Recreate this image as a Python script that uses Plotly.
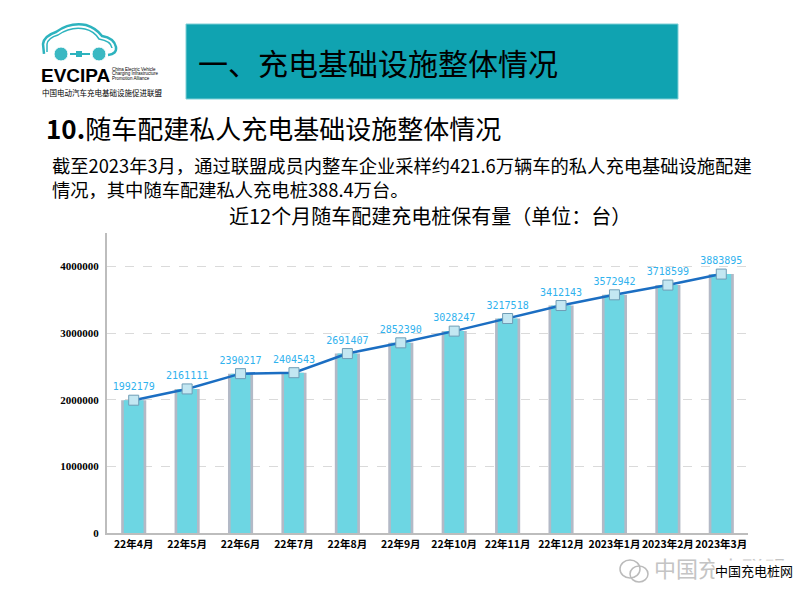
import plotly.graph_objects as go

months = ["22年4月", "22年5月", "22年6月", "22年7月", "22年8月", "22年9月",
          "22年10月", "22年11月", "22年12月", "2023年1月", "2023年2月", "2023年3月"]
stock = [1992179, 2161111, 2390217, 2404543, 2691407, 2852390,
         3028247, 3217518, 3412143, 3572942, 3718599, 3883895]
y_ticks = [0, 1000000, 2000000, 3000000, 4000000]

W, H = 800, 600
L, R, T, B = 107, 52, 233, 67
PW, PH = W - L - R, H - T - B


def px(x):
    return (x - L) / PW


def py(y):
    return (H - B - y) / PH


CJK = "Noto Sans CJK SC"

fig = go.Figure()
fig.add_trace(go.Bar(x=months, y=stock, width=0.47, marker=dict(color="#B3B9C6", line=dict(width=0)),
                     hoverinfo="skip", showlegend=False))
fig.add_trace(go.Bar(x=months, y=stock, width=0.37, marker=dict(color="#6DD6E3", line=dict(width=0)),
                     showlegend=False))
fig.add_trace(go.Scatter(x=months, y=stock, mode="lines+markers+text",
                         line=dict(color="#1B6EC2", width=2.5),
                         marker=dict(symbol="square", size=10, color="#C3E7F2",
                                     line=dict(color="#6F9DB6", width=1)),
                         text=[str(v) for v in stock], textposition="top center",
                         textfont=dict(family="DejaVu Sans Mono", size=10, color="#30B2EE"),
                         cliponaxis=False, showlegend=False))

shapes = []
shapes.append(dict(type="rect", xref="paper", yref="paper", x0=px(186), x1=px(678), y0=py(99), y1=py(24),
                   fillcolor="#10A3B1", line=dict(width=1, color="#7FCFD6"), layer="below"))


def path_from(points):
    s = ""
    for cmd, pts in points:
        s += cmd + " " + " ".join(f"{px(a):.5f},{py(b):.5f}" for a, b in pts) + " "
    return s


car = [("M", [(44, 54)]), ("L", [(43, 44)]), ("Q", [(44, 36), (56, 32)]), ("Q", [(70, 22), (86, 25)]),
       ("Q", [(96, 28), (102, 36)]), ("Q", [(114, 38), (116, 47)]), ("Q", [(117, 54), (108, 55)])]
car2 = [("M", [(47, 52)]), ("L", [(47, 44)]), ("Q", [(48, 38), (58, 35)]), ("Q", [(71, 26), (85, 29)]),
        ("Q", [(94, 31), (99, 39)]), ("Q", [(111, 41), (112, 48)])]
shapes.append(dict(type="path", xref="paper", yref="paper", path=path_from(car),
                   line=dict(color="#2DB3BE", width=2.5)))
shapes.append(dict(type="path", xref="paper", yref="paper", path=path_from(car2),
                   line=dict(color="#2DB3BE", width=1.5)))
for cx in (61, 99):
    shapes.append(dict(type="circle", xref="paper", yref="paper", x0=px(cx - 7), x1=px(cx + 7),
                       y0=py(61), y1=py(47), fillcolor="#3BB8C2", line=dict(color="white", width=1)))
shapes.append(dict(type="line", xref="paper", yref="paper", x0=px(70), x1=px(90), y0=py(54), y1=py(54),
                   line=dict(color="#2DB3BE", width=2)))
shapes.append(dict(type="rect", xref="paper", yref="paper", x0=px(76), x1=px(82), y0=py(57), y1=py(51),
                   fillcolor="#2DB3BE", line=dict(width=0)))
shapes.append(dict(type="circle", xref="paper", yref="paper", x0=px(620), x1=px(640), y0=py(578), y1=py(560),
                   line=dict(color="#BBBBBB", width=1.5)))
shapes.append(dict(type="circle", xref="paper", yref="paper", x0=px(630), x1=px(648), y0=py(582), y1=py(566),
                   line=dict(color="#BBBBBB", width=1.5)))

ann = []


def text(x, y, s, size, color="black", family=CJK, xanchor="left", bg=None, align="left"):
    f = dict(family=family, size=size, color=color)
    a = dict(x=px(x), y=py(y), xref="paper", yref="paper", text=s, showarrow=False,
             xanchor=xanchor, yanchor="middle", font=f, align=align)
    if bg:
        a["bgcolor"] = bg
        a["borderpad"] = 0
    ann.append(a)


text(196, 62, "一、充电基础设施整体情况", 30)
text(44, 128, "<b>10.</b>随车配建私人充电基础设施整体情况", 26)
text(50, 176.5, "截至2023年3月，通过联盟成员内整车企业采样约421.6万辆车的私人充电基础设施配建"
     "<br>情况，其中随车配建私人充电桩388.4万台。", 18.3)
text(430, 215, "近12个月随车配建充电桩保有量（单位：台）", 20, xanchor="center")
text(39, 76, "<b>EVCIPA</b>", 19, family="Liberation Sans")
text(110, 69, "China Electric Vehicle", 4.5, family="Liberation Sans")
text(110, 73.5, "Charging Infrastructure", 4.5, family="Liberation Sans")
text(110, 78, "Promotion Alliance", 4.5, family="Liberation Sans")
text(40, 92, "中国电动汽车充电基础设施促进联盟", 7.5)
text(652, 567, "中国充电联盟", 22, color="#C4C4C4")
text(714, 570, "中国充电桩网", 13, bg="white")

fig.update_layout(
    width=W, height=H, margin=dict(l=L, r=R, t=T, b=B, autoexpand=False),
    paper_bgcolor="white", plot_bgcolor="white",
    barmode="overlay",
    shapes=shapes, annotations=ann,
    xaxis=dict(range=[-0.5, len(months) - 0.5], showline=True, linecolor="#BDBDBD", linewidth=2,
               ticks="", showgrid=False, tickangle=0, automargin=False,
               tickfont=dict(family=CJK, size=10.5, color="black", weight="bold")),
    yaxis=dict(range=[0, 4500000], tickvals=y_ticks, ticktext=[str(v) for v in y_ticks],
               showline=True, linecolor="#BDBDBD", linewidth=2, ticks="", automargin=False,
               ticklabelstandoff=4,
               showgrid=True, gridcolor="#DADADA", griddash="dash", gridwidth=1, zeroline=False,
               tickfont=dict(family="Liberation Serif", size=11, color="black", weight="bold")),
)

fig.write_html("out.html", post_script="document.body.style.margin='0';",
               config={"displayModeBar": False})
